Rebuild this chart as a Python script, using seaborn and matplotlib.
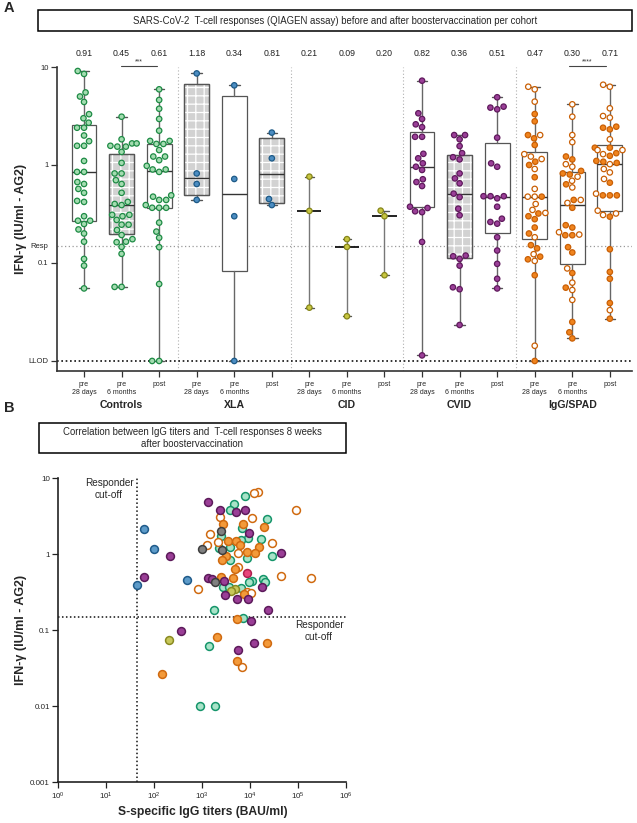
import numpy as np
import pandas as pd
import matplotlib
matplotlib.use("Agg")
import matplotlib.pyplot as plt
import seaborn as sns
from matplotlib.patches import Rectangle, PathPatch
from matplotlib.transforms import blended_transform_factory
from matplotlib.ticker import NullLocator

# ---------------- DATA ----------------
cohorts = ["Controls", "XLA", "CID", "CVID", "IgG/SPAD"]
time_keys = ["pre28", "pre6m", "post"]
time_labels = ["pre\n28 days", "pre\n6 months", "post"]
median_labels = ["0.91", "0.45", "0.61", "1.18", "0.34", "0.81", "0.21", "0.09", "0.20",
                 "0.82", "0.36", "0.51", "0.47", "0.30", "0.71"]

ctrl_pre28 = [9.1, 8.5, 5.5, 5.0, 4.4, 3.3, 3.0, 2.7, 2.4, 2.4, 2.0, 1.75, 1.57, 1.57, 1.1, 0.85, 0.85,
              0.67, 0.64, 0.57, 0.52, 0.43, 0.42, 0.30, 0.27, 0.27, 0.25, 0.22, 0.20, 0.165, 0.11, 0.094, 0.055]
ctrl_pre6m = [3.11, 1.83, 1.66, 1.66, 1.57, 1.54, 1.54, 1.36, 1.05, 0.82, 0.82, 0.70, 0.64, 0.52, 0.42, 0.40,
              0.39, 0.31, 0.31, 0.30, 0.275, 0.246, 0.246, 0.217, 0.193, 0.175, 0.165, 0.163, 0.146, 0.124, 0.057, 0.057]
ctrl_post = [5.92, 4.61, 3.75, 2.95, 2.24, 1.76, 1.76, 1.64, 1.64, 1.42, 1.22, 1.22, 1.12, 0.98, 0.90, 0.90,
             0.85, 0.49, 0.475, 0.44, 0.44, 0.39, 0.366, 0.366, 0.366, 0.258, 0.209, 0.181, 0.145, 0.061, 0.01, 0.01]
xla_pre28 = [8.6, 0.82, 0.64, 0.44]
xla_pre6m = [6.5, 0.72, 0.30, 0.01]
xla_post = [2.14, 1.17, 0.45, 0.39]
cid_pre28 = [0.76, 0.34, 0.035]
cid_pre6m = [0.175, 0.146, 0.0286]
cid_post = [0.342, 0.30, 0.075]
cvid_pre28 = [7.25, 3.37, 2.95, 2.60, 2.43, 1.94, 1.94, 1.30, 1.17, 1.04, 0.96, 0.89, 0.715, 0.67, 0.61,
              0.375, 0.364, 0.337, 0.33, 0.164, 0.0114]
cvid_pre6m = [2.02, 2.02, 1.83, 1.56, 1.32, 1.20, 1.14, 0.82, 0.73, 0.65, 0.51, 0.47, 0.358, 0.307, 0.119,
              0.117, 0.11, 0.094, 0.0565, 0.054, 0.0233]
cvid_post = [4.91, 3.94, 3.85, 3.70, 1.90, 1.04, 0.96, 0.48, 0.48, 0.48, 0.457, 0.375, 0.283, 0.262, 0.252,
             0.183, 0.134, 0.098, 0.069, 0.055]
igg_pre28_filled = [3.31, 2.79, 2.02, 1.87, 1.60, 1.08, 1.0, 0.75, 0.475, 0.32, 0.30, 0.28, 0.23, 0.20,
                    0.152, 0.141, 0.116, 0.109, 0.075, 0.01]
igg_pre28_open = [6.29, 5.92, 4.43, 2.02, 1.29, 1.22, 1.15, 0.91, 0.57, 0.475, 0.475, 0.40, 0.348, 0.324,
                  0.183, 0.123, 0.105, 0.0143]
igg_pre6m_filled = [1.22, 1.14, 0.87, 0.82, 0.80, 0.635, 0.44, 0.366, 0.243, 0.23, 0.192, 0.192, 0.145,
                    0.128, 0.079, 0.056, 0.025, 0.0196, 0.017]
igg_pre6m_open = [4.16, 3.11, 2.02, 1.71, 1.02, 0.96, 0.76, 0.69, 0.59, 0.44, 0.41, 0.206, 0.195, 0.088,
                  0.063, 0.053, 0.042]
igg_post_filled = [2.46, 2.40, 2.31, 1.50, 1.50, 1.32, 1.24, 1.10, 1.08, 1.05, 0.66, 0.49, 0.49, 0.49,
                   0.297, 0.138, 0.081, 0.069, 0.039, 0.027]
igg_post_open = [6.59, 6.29, 3.79, 3.16, 3.04, 1.83, 1.42, 1.42, 1.29, 1.02, 0.91, 0.84, 0.72, 0.51, 0.342,
                 0.32, 0.309, 0.033]

# Panel B: S-specific IgG titers (BAU/ml) vs IFN-gamma
b_ctrl_igg = [7900, 4730, 3780, 23100, 6950, 2490, 9270, 16800, 6520, 2260, 3780, 28500, 8570, 3840, 19100,
              10900, 9730, 20700, 2790, 3720, 6520, 1810, 7300, 1380, 910, 1900]
b_ctrl_ifn = [5.85, 4.59, 3.83, 2.94, 2.20, 1.74, 1.66, 1.59, 1.54, 1.20, 1.24, 0.96, 0.885, 0.84, 0.48,
              0.45, 0.43, 0.43, 0.37, 0.37, 0.36, 0.185, 0.147, 0.062, 0.010, 0.010]
b_xla_igg = [63, 101, 494, 43]
b_xla_ifn = [2.13, 1.16, 0.46, 0.39]
b_cid_igg = [4890, 3960, 205]
b_cid_ifn = [0.35, 0.33, 0.0745]
b_cvid_igg = [1330, 2380, 5130, 7780, 9730, 211, 43900, 62, 1310, 1590, 2880, 17600, 3020, 5300, 9000,
              24300, 10500, 371, 12000, 5650]
b_cvid_ifn = [4.88, 3.83, 3.64, 3.79, 1.93, 0.95, 1.03, 0.50, 0.49, 0.48, 0.44, 0.375, 0.29, 0.26, 0.258,
              0.185, 0.134, 0.098, 0.069, 0.055]
b_gray_igg = [2490, 1020, 2620, 1870]
b_gray_ifn = [2.03, 1.16, 1.14, 0.43]
b_pink_igg = [8850]
b_pink_ifn = [0.56]
b_iggF_igg = [2700, 7060, 19400, 3550, 5130, 6210, 15200, 8850, 13000, 3220, 2580, 4890, 2450, 4370, 7410,
              5300, 2050, 23100, 5300, 145]
b_iggF_ifn = [2.48, 2.51, 2.26, 1.51, 1.50, 1.33, 1.24, 1.08, 1.03, 0.95, 0.84, 0.65, 0.50, 0.49, 0.30,
              0.141, 0.082, 0.069, 0.039, 0.027]
b_iggO_igg = [14500, 12000, 93100, 2380, 10900, 1490, 2120, 28500, 1250, 5650, 5560, 43900, 191000, 810,
              8570, 10400, 6950]
b_iggO_ifn = [6.54, 6.34, 3.83, 3.13, 2.97, 1.83, 1.47, 1.42, 1.33, 1.03, 0.69, 0.52, 0.49, 0.35, 0.32,
              0.31, 0.033]

resp_cutoff = 0.15
llod = 0.01
igg_cutoff = 45

# ---------------- STYLE ----------------
sns.set_theme(style="ticks")
plt.rcParams["font.family"] = ["Liberation Sans", "DejaVu Sans"]
plt.rcParams["mathtext.fontset"] = "custom"
plt.rcParams["mathtext.rm"] = "Liberation Sans"
plt.rcParams["hatch.linewidth"] = 0.9

faceA = {"Controls": "#a3dcb0", "XLA": "#4c8dc2", "CID": "#c8c640", "CVID": "#9b3f98", "IgG/SPAD": "#f0841e"}
edgeA = {"Controls": "#1e8b45", "XLA": "#1d5a87", "CID": "#85851a", "CVID": "#5f1a5c", "IgG/SPAD": "#c95f05"}

W, H = 637, 823
fig = plt.figure(figsize=(W / 100, H / 100), dpi=100)

def fx(px):
    return px / W

def fy(py):
    return 1 - py / H

# ---------------- PANEL A ----------------
axA = fig.add_axes([fx(57), fy(371), fx(632) - fx(57), fy(67) - fy(371)])
axA.set_yscale("log")

group_vals = {
    "Controls": [ctrl_pre28, ctrl_pre6m, ctrl_post],
    "XLA": [xla_pre28, xla_pre6m, xla_post],
    "CID": [cid_pre28, cid_pre6m, cid_post],
    "CVID": [cvid_pre28, cvid_pre6m, cvid_post],
}
igg_vals = [(igg_pre28_filled, igg_pre28_open), (igg_pre6m_filled, igg_pre6m_open),
            (igg_post_filled, igg_post_open)]

rows = []
for c in cohorts[:4]:
    for t, vals in zip(time_keys, group_vals[c]):
        for v in vals:
            rows.append((c, f"{c}|{t}", v, "F"))
for t, (fv, ov) in zip(time_keys, igg_vals):
    for v in fv:
        rows.append(("IgG/SPAD", f"IgG/SPAD|{t}", v, "F"))
    for v in ov:
        rows.append(("IgG/SPAD", f"IgG/SPAD|{t}", v, "O"))
dfA = pd.DataFrame(rows, columns=["cohort", "cat", "value", "fill"])
cat_order = [f"{c}|{t}" for c in cohorts for t in time_keys]

# reference lines
axA.axhline(resp_cutoff, color="#9a9a9a", ls=(0, (1, 2)), lw=0.9, zorder=1.5)
axA.axhline(llod, color="#111111", ls=(0, (1, 1.6)), lw=1.2, zorder=1.5)
for xs in [2.5, 5.5, 8.5, 11.5]:
    axA.axvline(xs, color="#b0b0b0", ls=(0, (1, 2)), lw=0.8, zorder=1)

# boxes (GraphPad-style quartiles, whiskers min-max)
stats_box, pos_box, stats_cid, pos_cid = [], [], [], []
for i, cat in enumerate(cat_order):
    v = dfA.loc[dfA["cat"] == cat, "value"].to_numpy()
    q1, med, q3 = np.percentile(v, [25, 50, 75], method="weibull")
    if cat.startswith("CID"):
        stats_cid.append(dict(med=med, q1=med, q3=med, whislo=v.min(), whishi=v.max(), fliers=[]))
        pos_cid.append(i)
    else:
        stats_box.append(dict(med=med, q1=q1, q3=q3, whislo=v.min(), whishi=v.max(), fliers=[]))
        pos_box.append(i)

res = axA.bxp(stats_box, positions=pos_box, widths=0.66, patch_artist=True, showfliers=False,
              manage_ticks=False, capwidths=0.28,
              boxprops=dict(facecolor="white", edgecolor="#555555", linewidth=0.9),
              whiskerprops=dict(color="#666666", linewidth=1.0),
              capprops=dict(color="#555555", linewidth=1.0),
              medianprops=dict(color="#333333", linewidth=1.0), zorder=2)
hatched = [1, 3, 5, 10]
for b, p in zip(res["boxes"], pos_box):
    if p in hatched:
        b.set_facecolor("#d2d2d2")
        axA.add_patch(PathPatch(b.get_path(), facecolor="none", edgecolor="white", hatch="++",
                                lw=0, zorder=2.05))
        axA.add_patch(PathPatch(b.get_path(), facecolor="none", edgecolor="#555555", lw=0.9, zorder=2.1))
for m in res["medians"]:
    m.set_zorder(2.2)
res2 = axA.bxp(stats_cid, positions=pos_cid, widths=0.64, showbox=False, showfliers=False,
               manage_ticks=False, capwidths=0.22,
               whiskerprops=dict(color="#777777", linewidth=1.0),
               capprops=dict(color="#555555", linewidth=1.0),
               medianprops=dict(color="#111111", linewidth=1.3), zorder=2)

# points
for c in cohorts:
    sub = dfA[dfA["cohort"] == c]
    sns.swarmplot(data=sub, x="cat", y="value", hue="fill", hue_order=["F", "O"],
                  palette={"F": faceA[c], "O": "white"}, order=cat_order, size=3.9,
                  linewidth=0.9, edgecolor=edgeA[c], legend=False, ax=axA, zorder=4, warn_thresh=1)

axA.set_xlim(-0.72, 14.59)
axA.set_ylim(0.0079, 10)
axA.set_yticks([llod, 0.1, resp_cutoff, 1, 10])
axA.set_yticklabels(["LLOD", "0.1", "Resp", "1", "10"])
axA.yaxis.set_minor_locator(NullLocator())
axA.get_yaxis().get_major_ticks()[2].tick1line.set_visible(False)
axA.set_xticks(range(15))
axA.set_xticklabels(time_labels * 5, linespacing=1.25)
axA.tick_params(axis="x", labelsize=5, length=4, width=0.9, color="#333333", pad=3)
axA.tick_params(axis="y", labelsize=5.5, length=4, width=0.9, color="#333333", pad=2)
axA.set_xlabel("")
axA.set_ylabel("")
sns.despine(ax=axA)
for s in ["left", "bottom"]:
    axA.spines[s].set_linewidth(1.2)
    axA.spines[s].set_color("#333333")

trA = blended_transform_factory(axA.transData, axA.transAxes)
for i, lab in enumerate(median_labels):
    axA.text(i, 1.046, lab, transform=trA, ha="center", va="center", fontsize=6.3, color="#222222")
for ci, c in enumerate(cohorts):
    axA.text(ci * 3 + 1, -0.112, c, transform=trA, ha="center", va="center", fontsize=7.6,
             fontweight="bold")
for (x0, x1, stars) in [(0.98, 1.94, "***"), (12.9, 13.9, "****")]:
    axA.plot([x0, x1], [1.004, 1.004], transform=trA, clip_on=False, color="#444444", lw=0.8)
    axA.text((x0 + x1) / 2, 1.006, stars, transform=trA, ha="center", va="bottom", fontsize=5,
             color="#333333")

fig.add_artist(Rectangle((fx(38), fy(31)), fx(632) - fx(38), fy(10) - fy(31), transform=fig.transFigure,
                         fill=False, lw=1.1, ec="black"))
fig.text(fx(335), fy(20.5), "SARS-CoV-2  T-cell responses (QIAGEN assay) before and after "
         "boostervaccination per cohort", ha="center", va="center", fontsize=6.9)
fig.text(fx(4), fy(8), "A", ha="left", va="center", fontsize=10.5, fontweight="bold")
fig.text(fx(21), fy(219), "IFN-γ (IU/ml - AG2)", rotation=90, ha="center", va="center",
         fontsize=9, fontweight="bold")

# ---------------- PANEL B ----------------
axB = fig.add_axes([fx(58.3), fy(782.3), fx(345.7) - fx(58.3), fy(478.3) - fy(782.3)])
axB.set_xscale("log")
axB.set_yscale("log")

groupsB = [
    ("Controls", b_ctrl_igg, b_ctrl_ifn, "#a8e3c8", "#15956a"),
    ("XLA", b_xla_igg, b_xla_ifn, "#5d9bc9", "#1f5b8a"),
    ("CID", b_cid_igg, b_cid_ifn, "#c7c75a", "#8a8a20"),
    ("IgG/SPAD open", b_iggO_igg, b_iggO_ifn, "white", "#d06a10"),
    ("IgG/SPAD", b_iggF_igg, b_iggF_ifn, "#f39a3a", "#d06a10"),
    ("CVID", b_cvid_igg, b_cvid_ifn, "#9a3e96", "#5c1a5a"),
    ("Other", b_gray_igg, b_gray_ifn, "#808080", "#3d3d3d"),
    ("Other 2", b_pink_igg, b_pink_ifn, "#e8457a", "#b0204f"),
]
for name, gx, gy, fc, ec in groupsB:
    d = pd.DataFrame({"igg": gx, "ifn": gy})
    sns.scatterplot(data=d, x="igg", y="ifn", color=fc, edgecolor=ec, s=32, linewidth=1.1,
                    ax=axB, zorder=3, legend=False)

axB.axvline(igg_cutoff, color="#111111", ls=(0, (1, 1.6)), lw=1.1, zorder=1)
axB.axhline(resp_cutoff, color="#111111", ls=(0, (1, 1.6)), lw=1.1, zorder=1)
axB.set_xlim(1, 1e6)
axB.set_ylim(0.001, 10)
axB.set_xticks([10.0 ** k for k in range(7)])
axB.set_xticklabels([f"$\\mathregular{{10^{{{k}}}}}$" for k in range(7)])
axB.set_yticks([0.001, 0.01, 0.1, 1, 10])
axB.set_yticklabels(["0.001", "0.01", "0.1", "1", "10"])
axB.xaxis.set_minor_locator(NullLocator())
axB.yaxis.set_minor_locator(NullLocator())
axB.tick_params(axis="both", labelsize=5.8, length=4, width=0.9, color="#222222", pad=2)
axB.set_xlabel("")
axB.set_ylabel("")
sns.despine(ax=axB)
for s in ["left", "bottom"]:
    axB.spines[s].set_linewidth(1.2)
    axB.spines[s].set_color("#222222")

fig.text(fx(203), fy(812), "S-specific IgG titers (BAU/ml)", ha="center", va="center", fontsize=8.7,
         fontweight="bold")
fig.text(fx(21), fy(630), "IFN-γ (IU/ml - AG2)", rotation=90, ha="center", va="center",
         fontsize=9, fontweight="bold")
fig.text(fx(109), fy(489), "Responder\ncut-off", ha="center", va="center", fontsize=7.2,
         linespacing=1.2)
fig.text(fx(319), fy(631), "Responder\ncut-off", ha="center", va="center", fontsize=7.2,
         linespacing=1.2)

fig.add_artist(Rectangle((fx(39), fy(453)), fx(346) - fx(39), fy(423) - fy(453), transform=fig.transFigure,
                         fill=False, lw=1.1, ec="black"))
fig.text(fx(192), fy(438), "Correlation between IgG titers and  T-cell responses 8 weeks\n"
         "after boostervaccination", ha="center", va="center", fontsize=6.9, linespacing=1.3)
fig.text(fx(4), fy(408), "B", ha="left", va="center", fontsize=10.5, fontweight="bold")

fig.savefig("out.png", dpi=100)
